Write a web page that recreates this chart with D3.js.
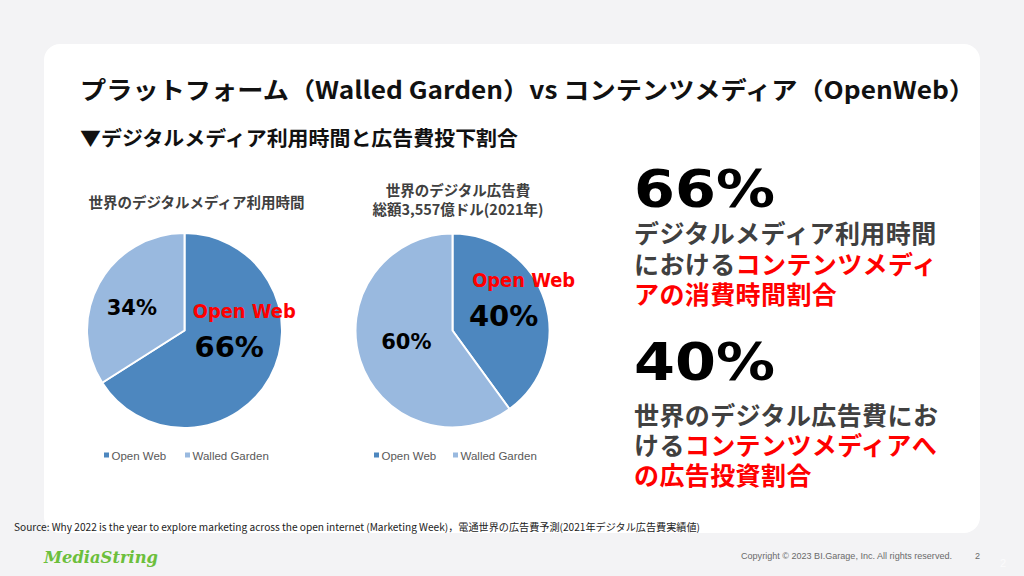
<!DOCTYPE html>
<html><head><meta charset="utf-8">
<script src="https://cdn.jsdelivr.net/npm/d3@7"></script>
<style>html,body{margin:0;padding:0;background:#f3f3f5;}svg{display:block;}</style>
</head><body>
<svg id="c" width="1024" height="576"></svg>
<script>
// ---- data ----
const categories = ["Open Web", "Walled Garden"];
const usageShare = [66, 34];      // 世界のデジタルメディア利用時間
const adSpendShare = [40, 60];    // 世界のデジタル広告費
const usageTitle = ["世界のデジタルメディア利用時間"];
const adTitle = ["世界のデジタル広告費", "総額3,557億ドル(2021年)"];
const colors = ["#4d87bf", "#99b9df"];

const JP = "'Noto Sans CJK JP', sans-serif";
const DV = "'DejaVu Sans', sans-serif";
const svg = d3.select("#c");

svg.append("rect").attr("width",1024).attr("height",576).attr("fill","#f3f3f5");
svg.append("rect").attr("x",44).attr("y",44).attr("width",936).attr("height",489).attr("rx",16).attr("fill","#fff");

svg.append("text").attr("x",80).attr("y",88).attr("dominant-baseline","central")
  .attr("font-family",JP).attr("font-weight",700).attr("font-size",24).attr("fill","#111")
  .attr("textLength",895).attr("lengthAdjust","spacingAndGlyphs")
  .text("プラットフォーム（Walled Garden）vs コンテンツメディア（OpenWeb）");
svg.append("text").attr("x",80).attr("y",137).attr("dominant-baseline","central")
  .attr("font-family",JP).attr("font-weight",700).attr("font-size",20).attr("fill","#111")
  .attr("textLength",438).attr("lengthAdjust","spacingAndGlyphs")
  .text("▼デジタルメディア利用時間と広告費投下割合");

function drawPie(values, cx, cy, r, titleLines, titleX, titleYs, labels, legendXs) {
  const g = svg.append("g").attr("transform",`translate(${cx},${cy})`);
  const pie = d3.pie().sort(null).value(d=>d);
  const arcs = pie(values);
  const arc = d3.arc().innerRadius(0).outerRadius(r);
  const mid = d3.arc().innerRadius(r*0.5).outerRadius(r*0.5);
  g.selectAll("path").data(arcs).join("path")
    .attr("d",arc).attr("fill",(d,i)=>colors[i]).attr("stroke","#fff").attr("stroke-width",2).attr("stroke-linejoin","round");
  titleLines.forEach((t,i)=>{
    svg.append("text").attr("x",titleX).attr("y",titleYs[i]).attr("text-anchor","middle").attr("dominant-baseline","central")
      .attr("font-family",JP).attr("font-weight",700).attr("font-size",14.5).attr("fill","#404040").text(t);
  });
  labels.forEach(l=>{
    const c = mid.centroid(arcs[l.slice]);
    const t = g.append("text").attr("x",c[0]+l.dx).attr("y",c[1]+l.dy).attr("text-anchor","middle").attr("dominant-baseline","central")
      .attr("font-family",DV).attr("font-weight",700).attr("font-size",l.size).attr("fill",l.color).text(l.text);
    if (l.len) t.attr("textLength",l.len).attr("lengthAdjust","spacingAndGlyphs");
  });
  categories.forEach((c,i)=>{
    svg.append("rect").attr("x",legendXs[i]).attr("y",452.5).attr("width",5).attr("height",5).attr("fill",colors[i]);
    svg.append("text").attr("x",legendXs[i]+7.5).attr("y",455.5).attr("dominant-baseline","central")
      .attr("font-family","'Liberation Sans', Arial, sans-serif").attr("font-size",11.5).attr("fill","#595959").text(c);
  });
}

drawPie(usageShare, 184.5, 330.5, 97.5, usageTitle, 196.5, [201], [
  {slice:0, text:"Open Web", dx:17, dy:-43, size:19.5, color:"#ff0000", len:103},
  {slice:0, text: usageShare[0]+"%", dx:2, dy:-7, size:29, color:"#000"},
  {slice:1, text: usageShare[1]+"%", dx:-10, dy:1, size:21, color:"#000"}
], [104, 185]);

drawPie(adSpendShare, 452.5, 330.5, 97, adTitle, 458, [189, 208], [
  {slice:0, text:"Open Web", dx:25, dy:-35, size:19.5, color:"#ff0000", len:103},
  {slice:0, text: adSpendShare[0]+"%", dx:5, dy:0, size:29, color:"#000"},
  {slice:1, text: adSpendShare[1]+"%", dx:0, dy:-4, size:21, color:"#000"}
], [374, 453]);

// right-hand highlights
function bigNum(v, y){
  svg.append("text").attr("x",634).attr("y",y).attr("dominant-baseline","central")
    .attr("font-family",DV).attr("font-weight",700).attr("font-size",52).attr("fill","#000")
    .attr("textLength",141).attr("lengthAdjust","spacingAndGlyphs").text(v+"%");
}
function line(parts, y){
  const t = svg.append("text").attr("x",634).attr("y",y).attr("dominant-baseline","central")
    .attr("font-family",JP).attr("font-weight",700).attr("font-size",25).attr("letter-spacing",0.4);
  parts.forEach(p=>t.append("tspan").attr("fill",p[1]?"#ff0000":"#404040").text(p[0]));
}
bigNum(usageShare[0], 189);
line([["デジタルメディア利用時間",0]], 232);
line([["における",0],["コンテンツメディ",1]], 263);
line([["アの消費時間割合",1]], 293);
bigNum(adSpendShare[0], 362);
line([["世界のデジタル広告費にお",0]], 414);
line([["ける",0],["コンテンツメディアへ",1]], 444);
line([["の広告投資割合",1]], 474);

svg.append("text").attr("x",14).attr("y",526).attr("dominant-baseline","central")
  .attr("font-family",JP).attr("font-size",10).attr("fill","#222")
  .attr("textLength",686).attr("lengthAdjust","spacingAndGlyphs")
  .text("Source: Why 2022 is the year to explore marketing across the open internet (Marketing Week)，電通世界の広告費予測(2021年デジタル広告費実績値)");

svg.append("text").attr("x",44).attr("y",557).attr("dominant-baseline","central")
  .attr("font-family","'DejaVu Serif', serif").attr("font-style","italic").attr("font-weight",700).attr("font-size",17)
  .attr("fill","#6cbf3c").attr("textLength",114).attr("lengthAdjust","spacingAndGlyphs").text("MediaString");

svg.append("text").attr("x",741).attr("y",556).attr("dominant-baseline","central")
  .attr("font-family","'Liberation Sans', Arial, sans-serif").attr("font-size",9).attr("fill","#6a6a6a")
  .attr("textLength",211).attr("lengthAdjust","spacingAndGlyphs").text("Copyright © 2023 BI.Garage, Inc. All rights reserved.");
svg.append("text").attr("x",975).attr("y",556).attr("dominant-baseline","central")
  .attr("font-family","'Liberation Sans', Arial, sans-serif").attr("font-size",9).attr("fill","#6a6a6a").text("2");
svg.append("text").attr("x",1000).attr("y",563).attr("dominant-baseline","central")
  .attr("font-family","'Liberation Sans', Arial, sans-serif").attr("font-size",11).attr("fill","#fbfbfc").text("2");
</script>
</body></html>
